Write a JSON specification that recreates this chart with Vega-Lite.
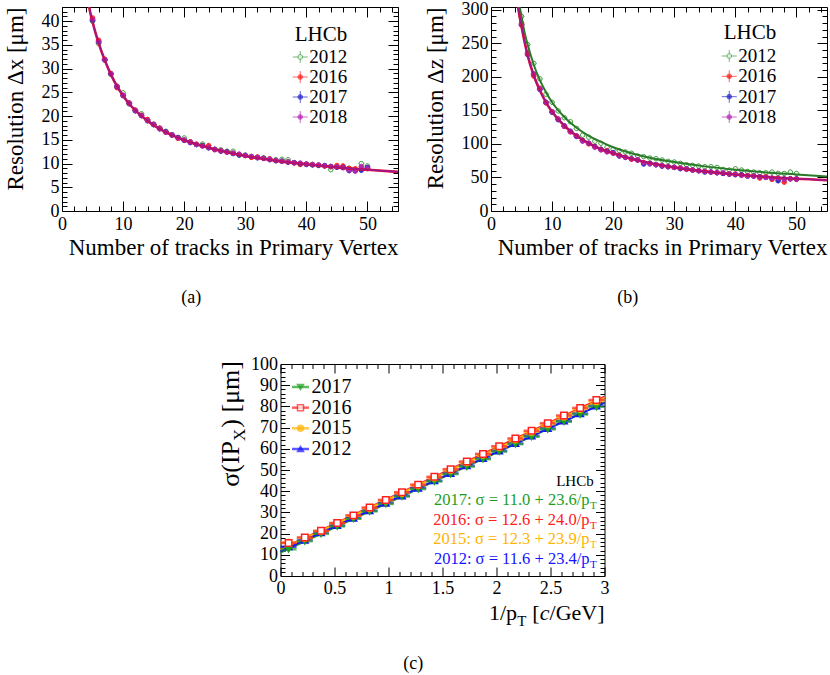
{
  "$schema": "https://vega.github.io/schema/vega-lite/v6.json",
  "background": "white",
  "padding": {"left": 3, "top": -5, "right": 0, "bottom": 0},
  "config": {
    "font": "Liberation Serif",
    "view": {"stroke": "#000000", "strokeWidth": 1},
    "legend": {"disable": true},
    "axis": {
      "domain": false, "grid": false, "labelFont": "Liberation Serif", "labelFontSize": 18,
      "labelColor": "#000000", "titleFont": "Liberation Serif", "titleFontSize": 23,
      "titleFontWeight": "normal", "titleColor": "#000000", "tickColor": "#000000",
      "tickWidth": 1, "labelFlush": false, "labelOverlap": false
    }
  },
  "datasets": {
    "resx": [
      {"n":5,"2012":40.0,"2016":40.7,"2017":40.2,"2018":40.4},
      {"n":6,"2012":35.3,"2016":36.0,"2017":35.6,"2018":35.7},
      {"n":7,"2012":31.9,"2016":32.0,"2017":31.8,"2018":31.9},
      {"n":8,"2012":28.8,"2016":29.0,"2017":28.9,"2018":28.9},
      {"n":9,"2012":26.3,"2016":26.0,"2017":26.2,"2018":26.3},
      {"n":10,"2012":24.9,"2016":24.4,"2017":24.3,"2018":24.4},
      {"n":11,"2012":22.6,"2016":22.8,"2017":22.7,"2018":22.6},
      {"n":12,"2012":21.2,"2016":21.3,"2017":21.1,"2018":21.2},
      {"n":13,"2012":20.5,"2016":20.2,"2017":20.1,"2018":20.1},
      {"n":14,"2012":19.2,"2016":19.3,"2017":19.0,"2018":19.1},
      {"n":15,"2012":18.3,"2016":18.2,"2017":18.2,"2018":18.3},
      {"n":16,"2012":17.4,"2016":17.5,"2017":17.3,"2018":17.4},
      {"n":17,"2012":16.8,"2016":16.6,"2017":16.7,"2018":16.6},
      {"n":18,"2012":16.1,"2016":16.0,"2017":16.0,"2018":16.1},
      {"n":19,"2012":15.5,"2016":15.3,"2017":15.5,"2018":15.4},
      {"n":20,"2012":15.4,"2016":14.9,"2017":14.9,"2018":15.0},
      {"n":21,"2012":14.6,"2016":14.6,"2017":14.4,"2018":14.5},
      {"n":22,"2012":14.0,"2016":14.1,"2017":14.0,"2018":14.0},
      {"n":23,"2012":14.1,"2016":13.7,"2017":13.8,"2018":13.7},
      {"n":24,"2012":13.4,"2016":13.8,"2017":13.3,"2018":13.4},
      {"n":25,"2012":13.0,"2016":12.9,"2017":13.0,"2018":13.0},
      {"n":26,"2012":12.9,"2016":12.7,"2017":12.6,"2018":12.7},
      {"n":27,"2012":12.6,"2016":12.4,"2017":12.5,"2018":12.4},
      {"n":28,"2012":12.6,"2016":12.2,"2017":12.1,"2018":12.2},
      {"n":29,"2012":11.8,"2016":11.9,"2017":11.8,"2018":12.0},
      {"n":30,"2012":11.8,"2016":11.7,"2017":11.7,"2018":11.7},
      {"n":31,"2012":11.4,"2016":11.3,"2017":11.5,"2018":11.5},
      {"n":32,"2012":11.3,"2016":11.4,"2017":11.2,"2018":11.3},
      {"n":33,"2012":11.2,"2016":11.1,"2017":11.1,"2018":11.1},
      {"n":34,"2012":10.9,"2016":11.0,"2017":10.8,"2018":10.9},
      {"n":35,"2012":10.8,"2016":10.6,"2017":10.6,"2018":10.7},
      {"n":36,"2012":10.9,"2016":10.5,"2017":10.5,"2018":10.5},
      {"n":37,"2012":10.8,"2016":10.3,"2017":10.3,"2018":10.4},
      {"n":38,"2012":10.2,"2016":10.1,"2017":10.2,"2018":10.2},
      {"n":39,"2012":9.9,"2016":9.8,"2017":10.0,"2018":10.1},
      {"n":40,"2012":9.9,"2016":9.9,"2017":9.8,"2018":9.9},
      {"n":41,"2012":9.8,"2016":9.8,"2017":9.7,"2018":9.8},
      {"n":42,"2012":9.6,"2016":9.7,"2017":9.6,"2018":9.7},
      {"n":43,"2012":9.5,"2016":9.5,"2017":9.6,"2018":9.5},
      {"n":44,"2012":8.7,"2016":9.3,"2017":9.4,"2018":9.4},
      {"n":45,"2012":9.3,"2016":9.6,"2017":9.2,"2018":9.3},
      {"n":46,"2012":9.2,"2016":9.5,"2017":9.2,"2018":9.1},
      {"n":47,"2012":9.0,"2016":9.0,"2017":8.5,"2018":8.6},
      {"n":48,"2012":8.7,"2016":8.9,"2017":8.5,"2018":8.4},
      {"n":49,"2012":10.0,"2016":8.9,"2017":8.6,"2018":9.4},
      {"n":50,"2012":9.5,"2016":8.9,"2017":9.2,"2018":9.0}
    ],
    "resz": [
      {"n":5,"2012":290,"2016":280,"2017":277,"2018":278},
      {"n":6,"2012":248,"2016":236,"2017":233,"2018":234},
      {"n":7,"2012":220,"2016":201,"2017":204,"2018":204},
      {"n":8,"2012":197,"2016":183,"2017":181,"2018":182},
      {"n":9,"2012":174,"2016":161,"2017":162,"2018":162},
      {"n":10,"2012":162,"2016":148,"2017":147,"2018":148},
      {"n":11,"2012":149,"2016":137,"2017":136,"2018":137},
      {"n":12,"2012":139,"2016":126,"2017":127,"2018":126},
      {"n":13,"2012":133,"2016":118,"2017":119,"2018":118},
      {"n":14,"2012":123,"2016":112,"2017":111,"2018":112},
      {"n":15,"2012":113,"2016":105,"2017":105,"2018":104},
      {"n":16,"2012":110,"2016":100,"2017":101,"2018":101},
      {"n":17,"2012":104,"2016":96,"2017":96,"2018":95},
      {"n":18,"2012":101,"2016":92,"2017":92,"2018":91},
      {"n":19,"2012":95,"2016":90,"2017":89,"2018":88},
      {"n":20,"2012":92,"2016":86,"2017":87,"2018":86},
      {"n":21,"2012":90,"2016":83,"2017":82,"2018":82},
      {"n":22,"2012":88,"2016":80,"2017":80,"2018":80},
      {"n":23,"2012":86,"2016":77,"2017":78,"2018":78},
      {"n":24,"2012":82,"2016":76,"2017":76,"2018":76},
      {"n":25,"2012":81,"2016":72,"2017":70,"2018":72},
      {"n":26,"2012":79,"2016":71,"2017":71,"2018":70},
      {"n":27,"2012":78,"2016":69,"2017":69,"2018":69},
      {"n":28,"2012":76,"2016":67,"2017":67,"2018":68},
      {"n":29,"2012":74,"2016":66,"2017":66,"2018":66},
      {"n":30,"2012":73,"2016":65,"2017":65,"2018":65},
      {"n":31,"2012":71,"2016":64,"2017":63,"2018":64},
      {"n":32,"2012":69,"2016":62,"2017":63,"2018":63},
      {"n":33,"2012":68,"2016":61,"2017":61,"2018":61},
      {"n":34,"2012":67,"2016":60,"2017":60,"2018":60},
      {"n":35,"2012":66,"2016":59,"2017":58,"2018":59},
      {"n":36,"2012":66,"2016":58,"2017":58,"2018":58},
      {"n":37,"2012":65,"2016":57,"2017":57,"2018":57},
      {"n":38,"2012":62,"2016":56,"2017":56,"2018":57},
      {"n":39,"2012":61,"2016":55,"2017":55,"2018":55},
      {"n":40,"2012":63,"2016":55,"2017":54,"2018":55},
      {"n":41,"2012":61,"2016":54,"2017":54,"2018":53},
      {"n":42,"2012":59,"2016":53,"2017":52,"2018":52},
      {"n":43,"2012":58,"2016":52,"2017":52,"2018":52},
      {"n":44,"2012":57,"2016":49,"2017":51,"2018":51},
      {"n":45,"2012":57,"2016":51,"2017":50,"2018":50},
      {"n":46,"2012":58,"2016":47,"2017":49,"2018":49},
      {"n":47,"2012":56,"2016":48,"2017":45,"2018":49},
      {"n":48,"2012":56,"2016":43,"2017":48,"2018":47},
      {"n":49,"2012":58,"2016":48,"2017":48,"2018":48},
      {"n":50,"2012":56,"2016":47,"2017":48,"2018":48}
    ],
    "fitx": [
      {"n":4.3,"res":44.2},{"n":4.6,"res":42.0},{"n":5,"res":39.9},{"n":5.5,"res":37.5},
      {"n":6,"res":35.4},{"n":7,"res":31.8},{"n":8,"res":28.8},{"n":9,"res":26.3},
      {"n":10,"res":24.3},{"n":11,"res":22.6},{"n":12,"res":21.2},{"n":14,"res":19.0},
      {"n":16,"res":17.3},{"n":18,"res":16.0},{"n":20,"res":14.9},{"n":23,"res":13.7},
      {"n":26,"res":12.7},{"n":30,"res":11.6},{"n":35,"res":10.6},{"n":40,"res":9.85},
      {"n":45,"res":9.2},{"n":50,"res":8.7},{"n":55,"res":8.25}
    ],
    "fitz": [
      {"n":4.2,"z12":335,"z2":320},{"n":4.5,"z12":315,"z2":300},{"n":5,"z12":290,"z2":275},
      {"n":5.5,"z12":266,"z2":252},{"n":6,"z12":248,"z2":232},{"n":7,"z12":218,"z2":202},
      {"n":8,"z12":195,"z2":180},{"n":9,"z12":177,"z2":162},{"n":10,"z12":162,"z2":148},
      {"n":12,"z12":140,"z2":127},{"n":14,"z12":124,"z2":112},{"n":16,"z12":112,"z2":101},
      {"n":18,"z12":103,"z2":92},{"n":20,"z12":95,"z2":86},{"n":23,"z12":86,"z2":78},
      {"n":26,"z12":79.5,"z2":71.5},{"n":30,"z12":73,"z2":65},{"n":35,"z12":66.5,"z2":59},
      {"n":40,"z12":61.5,"z2":54.5},{"n":45,"z12":57.5,"z2":51},{"n":50,"z12":54.5,"z2":48},
      {"n":55,"z12":51.5,"z2":46}
    ],
    "ipx": [
      {"x":0.075,"2017":12.6,"2016":15.6,"2015":15.8,"2012":13.8},
      {"x":0.225,"2017":16.4,"2016":18.2,"2015":17.9,"2012":16.9},
      {"x":0.375,"2017":19.9,"2016":21.3,"2015":21.2,"2012":20.4},
      {"x":0.525,"2017":23.4,"2016":25.0,"2015":24.9,"2012":23.8},
      {"x":0.675,"2017":27.0,"2016":28.6,"2015":28.4,"2012":27.3},
      {"x":0.825,"2017":30.5,"2016":32.3,"2015":32.0,"2012":30.8},
      {"x":0.975,"2017":34.0,"2016":35.9,"2015":35.6,"2012":34.4},
      {"x":1.125,"2017":37.5,"2016":39.5,"2015":39.2,"2012":37.8},
      {"x":1.275,"2017":41.0,"2016":43.1,"2015":42.8,"2012":41.4},
      {"x":1.425,"2017":44.6,"2016":46.8,"2015":46.4,"2012":44.9},
      {"x":1.575,"2017":48.1,"2016":50.4,"2015":50.0,"2012":48.4},
      {"x":1.725,"2017":51.6,"2016":54.0,"2015":53.6,"2012":52.0},
      {"x":1.875,"2017":55.1,"2016":57.6,"2015":57.2,"2012":55.5},
      {"x":2.025,"2017":58.7,"2016":61.2,"2015":60.8,"2012":59.0},
      {"x":2.175,"2017":62.2,"2016":64.9,"2015":64.4,"2012":62.5},
      {"x":2.325,"2017":65.7,"2016":68.5,"2015":68.0,"2012":66.1},
      {"x":2.475,"2017":69.2,"2016":72.1,"2015":71.6,"2012":69.6},
      {"x":2.625,"2017":72.8,"2016":75.7,"2015":75.2,"2012":73.1},
      {"x":2.775,"2017":76.2,"2016":79.3,"2015":78.8,"2012":76.6},
      {"x":2.925,"2017":79.8,"2016":83.0,"2015":82.4,"2012":80.2}
    ],
    "fitc": [
      {"year":"2017","x":0,"s":11.0},{"year":"2017","x":3,"s":81.8},
      {"year":"2016","x":0,"s":12.6},{"year":"2016","x":3,"s":84.6},
      {"year":"2015","x":0,"s":12.3},{"year":"2015","x":3,"s":84.0},
      {"year":"2012","x":0,"s":11.6},{"year":"2012","x":3,"s":81.8}
    ],
    "yearsRun": [{"year":"2012"},{"year":"2016"},{"year":"2017"},{"year":"2018"}],
    "yearsIP": [{"year":"2017"},{"year":"2016"},{"year":"2015"},{"year":"2012"}],
    "fitsIP": [
      {"year":"2017","eq":"2017: σ = 11.0 + 23.6/p"},
      {"year":"2016","eq":"2016: σ = 12.6 + 24.0/p"},
      {"year":"2015","eq":"2015: σ = 12.3 + 23.9/p"},
      {"year":"2012","eq":"2012: σ = 11.6 + 23.4/p"}
    ]
  },
  "spacing": 46,
  "center": true,
  "resolve": {"scale": {"color": "independent", "fill": "independent", "stroke": "independent", "shape": "independent"}},
  "vconcat": [
    {
      "spacing": 24,
      "hconcat": [
        {
          "width": 336, "height": 204,
          "title": {"text": "(a)", "orient": "bottom", "frame": "bounds", "anchor": "middle", "offset": 30, "dx": -10, "fontSize": 18, "fontWeight": "normal", "font": "Liberation Serif"},
          "layer": [
            {
              "layer": [
                {
                  "data": {"name": "fitx"},
                  "mark": {"type": "line", "opacity": 0},
                  "encoding": {
                    "x": {"field": "n", "type": "quantitative", "scale": {"domain": [0, 55], "nice": false, "zero": false},
                      "axis": {"values": [0,2,4,6,8,10,12,14,16,18,20,22,24,26,28,30,32,34,36,38,40,42,44,46,48,50,52,54],
                        "labelExpr": "datum.value % 10 === 0 ? datum.label : ''",
                        "tickSize": {"condition": {"test": "datum.value % 10 === 0", "value": -10}, "value": -5},
                        "labelPadding": 14, "title": "Number of tracks in Primary Vertex", "titleAnchor": "end", "titlePadding": -2}},
                    "y": {"field": "res", "type": "quantitative", "scale": {"domain": [0, 43], "nice": false},
                      "axis": {"values": [0,1,2,3,4,5,6,7,8,9,10,11,12,13,14,15,16,17,18,19,20,21,22,23,24,25,26,27,28,29,30,31,32,33,34,35,36,37,38,39,40,41,42,43],
                        "labelExpr": "datum.value % 5 === 0 ? datum.label : ''",
                        "tickSize": {"condition": {"test": "datum.value % 5 === 0", "value": -10}, "value": -5},
                        "labelPadding": 13, "title": "Resolution Δx [μm]", "titleAnchor": "end", "titlePadding": 14}}
                  }
                },
                {
                  "data": {"name": "fitx"},
                  "mark": {"type": "line", "opacity": 0},
                  "encoding": {
                    "x": {"field": "n", "type": "quantitative",
                      "axis": {"orient": "top", "labels": false, "title": null,
                        "values": [0,2,4,6,8,10,12,14,16,18,20,22,24,26,28,30,32,34,36,38,40,42,44,46,48,50,52,54],
                        "tickSize": {"condition": {"test": "datum.value % 10 === 0", "value": -10}, "value": -5}}},
                    "y": {"field": "res", "type": "quantitative",
                      "axis": {"orient": "right", "labels": false, "title": null,
                        "values": [0,1,2,3,4,5,6,7,8,9,10,11,12,13,14,15,16,17,18,19,20,21,22,23,24,25,26,27,28,29,30,31,32,33,34,35,36,37,38,39,40,41,42,43],
                        "tickSize": {"condition": {"test": "datum.value % 5 === 0", "value": -10}, "value": -5}}}
                  }
                },
                {
                  "data": {"name": "resx"},
                  "transform": [{"fold": ["2012", "2016", "2017", "2018"], "as": ["year", "res"]}],
                  "encoding": {
                    "x": {"field": "n", "type": "quantitative", "axis": null},
                    "y": {"field": "res", "type": "quantitative", "axis": null}
                  },
                  "layer": [
                    {"mark": {"type": "tick", "orient": "horizontal", "size": 6, "thickness": 1, "opacity": 0.6},
                     "encoding": {"color": {"field": "year", "type": "nominal", "scale": {"domain": ["2012","2016","2017","2018"], "range": ["#3a9a3a","#ff2020","#2424c4","#b428b4"]}}}},
                    {"mark": {"type": "tick", "orient": "vertical", "size": 5, "thickness": 1, "opacity": 0.6},
                     "encoding": {"color": {"field": "year", "type": "nominal", "scale": {"domain": ["2012","2016","2017","2018"], "range": ["#3a9a3a","#ff2020","#2424c4","#b428b4"]}}}},
                    {"mark": {"type": "point", "shape": "circle", "size": 20, "strokeWidth": 1, "filled": true, "opacity": 0.9},
                     "encoding": {
                       "stroke": {"field": "year", "type": "nominal", "scale": {"domain": ["2012","2016","2017","2018"], "range": ["#3a9a3a","#ff2020","#2424c4","#b428b4"]}},
                       "fill": {"field": "year", "type": "nominal", "scale": {"domain": ["2012","2016","2017","2018"], "range": ["#ffffff","#ff2020","#2424c4","#b428b4"]}}}}
                  ]
                },
                {
                  "data": {"name": "fitx"},
                  "mark": {"type": "line", "color": "#e01030", "strokeWidth": 2.6, "clip": true, "interpolate": "monotone"},
                  "encoding": {
                    "x": {"field": "n", "type": "quantitative", "axis": null},
                    "y": {"field": "res", "type": "quantitative", "axis": null}
                  }
                },
                {
                  "data": {"name": "fitx"},
                  "mark": {"type": "line", "color": "#a0148c", "strokeWidth": 1.6, "clip": true, "interpolate": "monotone"},
                  "encoding": {
                    "x": {"field": "n", "type": "quantitative", "axis": null},
                    "y": {"field": "res", "type": "quantitative", "axis": null}
                  }
                },
                {
                  "data": {"values": [{}]},
                  "mark": {"type": "text", "text": "LHCb", "align": "left", "baseline": "middle", "fontSize": 21, "color": "#000000"},
                  "encoding": {
                    "x": {"datum": 38.1, "type": "quantitative", "axis": null},
                    "y": {"datum": 37, "type": "quantitative", "axis": null}
                  }
                }
              ],
              "resolve": {"axis": {"x": "independent", "y": "independent"}}
            },
            {
              "data": {"name": "yearsRun"},
              "encoding": {
                "x": {"datum": 39.0, "type": "quantitative", "axis": null},
                "y": {"field": "year", "type": "nominal", "scale": {"type": "point", "domain": ["2012","2016","2017","2018"], "range": [50, 110], "padding": 0}, "axis": null}
              },
              "layer": [
                {"mark": {"type": "tick", "orient": "horizontal", "size": 15, "thickness": 1},
                 "encoding": {"color": {"field": "year", "type": "nominal", "scale": {"domain": ["2012","2016","2017","2018"], "range": ["#3a9a3a","#ff2020","#2424c4","#b428b4"]}}}},
                {"mark": {"type": "tick", "orient": "vertical", "size": 12, "thickness": 1},
                 "encoding": {"color": {"field": "year", "type": "nominal", "scale": {"domain": ["2012","2016","2017","2018"], "range": ["#3a9a3a","#ff2020","#2424c4","#b428b4"]}}}},
                {"mark": {"type": "point", "shape": "circle", "size": 22, "strokeWidth": 1, "filled": true},
                 "encoding": {
                   "stroke": {"field": "year", "type": "nominal", "scale": {"domain": ["2012","2016","2017","2018"], "range": ["#3a9a3a","#ff2020","#2424c4","#b428b4"]}},
                   "fill": {"field": "year", "type": "nominal", "scale": {"domain": ["2012","2016","2017","2018"], "range": ["#ffffff","#ff2020","#2424c4","#b428b4"]}}}},
                {"mark": {"type": "text", "align": "left", "baseline": "middle", "dx": 9, "fontSize": 19, "color": "#000000"},
                 "encoding": {"text": {"field": "year"}}}
              ]
            }
          ],
          "resolve": {"scale": {"y": "independent"}, "axis": {"x": "independent", "y": "independent"}}
        },
        {
          "width": 336, "height": 204,
          "title": {"text": "(b)", "orient": "bottom", "frame": "bounds", "anchor": "middle", "offset": 30, "dx": 2, "fontSize": 18, "fontWeight": "normal", "font": "Liberation Serif"},
          "layer": [
            {
              "layer": [
                {
                  "data": {"name": "fitz"},
                  "mark": {"type": "line", "opacity": 0},
                  "encoding": {
                    "x": {"field": "n", "type": "quantitative", "scale": {"domain": [0, 55], "nice": false, "zero": false},
                      "axis": {"values": [0,2,4,6,8,10,12,14,16,18,20,22,24,26,28,30,32,34,36,38,40,42,44,46,48,50,52,54],
                        "labelExpr": "datum.value % 10 === 0 ? datum.label : ''",
                        "tickSize": {"condition": {"test": "datum.value % 10 === 0", "value": -10}, "value": -5},
                        "labelPadding": 14, "title": "Number of tracks in Primary Vertex", "titleAnchor": "end", "titlePadding": -2}},
                    "y": {"field": "z2", "type": "quantitative", "scale": {"domain": [0, 304], "nice": false},
                      "axis": {"values": [0,10,20,30,40,50,60,70,80,90,100,110,120,130,140,150,160,170,180,190,200,210,220,230,240,250,260,270,280,290,300],
                        "labelExpr": "datum.value % 50 === 0 ? datum.label : ''",
                        "tickSize": {"condition": {"test": "datum.value % 50 === 0", "value": -10}, "value": -5},
                        "labelPadding": 13, "title": "Resolution Δz [μm]", "titleAnchor": "end", "titlePadding": 14}}
                  }
                },
                {
                  "data": {"name": "fitz"},
                  "mark": {"type": "line", "opacity": 0},
                  "encoding": {
                    "x": {"field": "n", "type": "quantitative",
                      "axis": {"orient": "top", "labels": false, "title": null,
                        "values": [0,2,4,6,8,10,12,14,16,18,20,22,24,26,28,30,32,34,36,38,40,42,44,46,48,50,52,54],
                        "tickSize": {"condition": {"test": "datum.value % 10 === 0", "value": -10}, "value": -5}}},
                    "y": {"field": "z2", "type": "quantitative",
                      "axis": {"orient": "right", "labels": false, "title": null,
                        "values": [0,10,20,30,40,50,60,70,80,90,100,110,120,130,140,150,160,170,180,190,200,210,220,230,240,250,260,270,280,290,300],
                        "tickSize": {"condition": {"test": "datum.value % 50 === 0", "value": -10}, "value": -5}}}
                  }
                },
                {
                  "data": {"name": "resz"},
                  "transform": [{"fold": ["2012", "2016", "2017", "2018"], "as": ["year", "res"]}],
                  "encoding": {
                    "x": {"field": "n", "type": "quantitative", "axis": null},
                    "y": {"field": "res", "type": "quantitative", "axis": null}
                  },
                  "layer": [
                    {"mark": {"type": "tick", "orient": "horizontal", "size": 6, "thickness": 1, "opacity": 0.6},
                     "encoding": {"color": {"field": "year", "type": "nominal", "scale": {"domain": ["2012","2016","2017","2018"], "range": ["#3a9a3a","#ff2020","#2424c4","#b428b4"]}}}},
                    {"mark": {"type": "tick", "orient": "vertical", "size": 5, "thickness": 1, "opacity": 0.6},
                     "encoding": {"color": {"field": "year", "type": "nominal", "scale": {"domain": ["2012","2016","2017","2018"], "range": ["#3a9a3a","#ff2020","#2424c4","#b428b4"]}}}},
                    {"mark": {"type": "point", "shape": "circle", "size": 20, "strokeWidth": 1, "filled": true, "opacity": 0.9},
                     "encoding": {
                       "stroke": {"field": "year", "type": "nominal", "scale": {"domain": ["2012","2016","2017","2018"], "range": ["#3a9a3a","#ff2020","#2424c4","#b428b4"]}},
                       "fill": {"field": "year", "type": "nominal", "scale": {"domain": ["2012","2016","2017","2018"], "range": ["#ffffff","#ff2020","#2424c4","#b428b4"]}}}}
                  ]
                },
                {
                  "data": {"name": "fitz"},
                  "mark": {"type": "line", "color": "#2a7a2a", "strokeWidth": 2, "clip": true, "interpolate": "monotone"},
                  "encoding": {
                    "x": {"field": "n", "type": "quantitative", "axis": null},
                    "y": {"field": "z12", "type": "quantitative", "axis": null}
                  }
                },
                {
                  "data": {"name": "fitz"},
                  "mark": {"type": "line", "color": "#e01030", "strokeWidth": 2.6, "clip": true, "interpolate": "monotone"},
                  "encoding": {
                    "x": {"field": "n", "type": "quantitative", "axis": null},
                    "y": {"field": "z2", "type": "quantitative", "axis": null}
                  }
                },
                {
                  "data": {"name": "fitz"},
                  "mark": {"type": "line", "color": "#a0148c", "strokeWidth": 1.6, "clip": true, "interpolate": "monotone"},
                  "encoding": {
                    "x": {"field": "n", "type": "quantitative", "axis": null},
                    "y": {"field": "z2", "type": "quantitative", "axis": null}
                  }
                },
                {
                  "data": {"values": [{}]},
                  "mark": {"type": "text", "text": "LHCb", "align": "left", "baseline": "middle", "fontSize": 21, "color": "#000000"},
                  "encoding": {
                    "x": {"datum": 38.1, "type": "quantitative", "axis": null},
                    "y": {"datum": 265, "type": "quantitative", "axis": null}
                  }
                }
              ],
              "resolve": {"axis": {"x": "independent", "y": "independent"}}
            },
            {
              "data": {"name": "yearsRun"},
              "encoding": {
                "x": {"datum": 39.0, "type": "quantitative", "axis": null},
                "y": {"field": "year", "type": "nominal", "scale": {"type": "point", "domain": ["2012","2016","2017","2018"], "range": [49, 110], "padding": 0}, "axis": null}
              },
              "layer": [
                {"mark": {"type": "tick", "orient": "horizontal", "size": 15, "thickness": 1},
                 "encoding": {"color": {"field": "year", "type": "nominal", "scale": {"domain": ["2012","2016","2017","2018"], "range": ["#3a9a3a","#ff2020","#2424c4","#b428b4"]}}}},
                {"mark": {"type": "tick", "orient": "vertical", "size": 12, "thickness": 1},
                 "encoding": {"color": {"field": "year", "type": "nominal", "scale": {"domain": ["2012","2016","2017","2018"], "range": ["#3a9a3a","#ff2020","#2424c4","#b428b4"]}}}},
                {"mark": {"type": "point", "shape": "circle", "size": 22, "strokeWidth": 1, "filled": true},
                 "encoding": {
                   "stroke": {"field": "year", "type": "nominal", "scale": {"domain": ["2012","2016","2017","2018"], "range": ["#3a9a3a","#ff2020","#2424c4","#b428b4"]}},
                   "fill": {"field": "year", "type": "nominal", "scale": {"domain": ["2012","2016","2017","2018"], "range": ["#ffffff","#ff2020","#2424c4","#b428b4"]}}}},
                {"mark": {"type": "text", "align": "left", "baseline": "middle", "dx": 9, "fontSize": 19, "color": "#000000"},
                 "encoding": {"text": {"field": "year"}}}
              ]
            }
          ],
          "resolve": {"scale": {"y": "independent"}, "axis": {"x": "independent", "y": "independent"}}
        }
      ]
    },
    {
      "width": 324, "height": 212,
      "title": {"text": "(c)", "orient": "bottom", "frame": "bounds", "anchor": "middle", "offset": 26, "dx": 0, "fontSize": 18, "fontWeight": "normal", "font": "Liberation Serif"},
      "layer": [
        {
          "layer": [
            {
              "data": {"name": "fitc"},
              "mark": {"type": "line", "strokeWidth": 2},
              "encoding": {
                "x": {"field": "x", "type": "quantitative", "scale": {"domain": [0, 3], "nice": false, "zero": false},
                  "axis": {"values": [0,0.1,0.2,0.3,0.4,0.5,0.6,0.7,0.8,0.9,1,1.1,1.2,1.3,1.4,1.5,1.6,1.7,1.8,1.9,2,2.1,2.2,2.3,2.4,2.5,2.6,2.7,2.8,2.9,3],
                    "format": "~g",
                    "labelExpr": "abs(datum.value*2 - round(datum.value*2)) < 0.001 ? datum.label : ''",
                    "tickSize": {"condition": {"test": "abs(datum.value*2 - round(datum.value*2)) < 0.001", "value": -9}, "value": -4.5},
                    "labelPadding": 12, "title": null}},
                "y": {"field": "s", "type": "quantitative", "scale": {"domain": [0, 100], "nice": false},
                  "axis": {"values": [0,2,4,6,8,10,12,14,16,18,20,22,24,26,28,30,32,34,36,38,40,42,44,46,48,50,52,54,56,58,60,62,64,66,68,70,72,74,76,78,80,82,84,86,88,90,92,94,96,98,100],
                    "labelExpr": "datum.value % 10 === 0 ? datum.label : ''",
                    "tickSize": {"condition": {"test": "datum.value % 10 === 0", "value": -9}, "value": -4.5},
                    "labelPadding": 12, "title": null}},
                "color": {"field": "year", "type": "nominal", "scale": {"domain": ["2017","2016","2015","2012"], "range": ["#1e9e1e","#ff2020","#ffb400","#1414ff"]}}
              }
            },
            {
              "data": {"name": "fitc"},
              "mark": {"type": "line", "opacity": 0},
              "encoding": {
                "x": {"field": "x", "type": "quantitative",
                  "axis": {"orient": "top", "labels": false, "title": null,
                    "values": [0,0.1,0.2,0.3,0.4,0.5,0.6,0.7,0.8,0.9,1,1.1,1.2,1.3,1.4,1.5,1.6,1.7,1.8,1.9,2,2.1,2.2,2.3,2.4,2.5,2.6,2.7,2.8,2.9,3],
                    "tickSize": {"condition": {"test": "abs(datum.value*2 - round(datum.value*2)) < 0.001", "value": -9}, "value": -4.5}}},
                "y": {"field": "s", "type": "quantitative",
                  "axis": {"orient": "right", "labels": false, "title": null,
                    "values": [0,2,4,6,8,10,12,14,16,18,20,22,24,26,28,30,32,34,36,38,40,42,44,46,48,50,52,54,56,58,60,62,64,66,68,70,72,74,76,78,80,82,84,86,88,90,92,94,96,98,100],
                    "tickSize": {"condition": {"test": "datum.value % 10 === 0", "value": -9}, "value": -4.5}}},
                "detail": {"field": "year"}
              }
            },
            {
              "data": {"name": "ipx"},
              "transform": [{"fold": ["2012", "2017", "2015", "2016"], "as": ["year", "s"]}],
              "encoding": {
                "x": {"field": "x", "type": "quantitative", "axis": null},
                "y": {"field": "s", "type": "quantitative", "axis": null}
              },
              "layer": [
                {"mark": {"type": "tick", "orient": "horizontal", "size": 16, "thickness": 2.5},
                 "encoding": {"color": {"field": "year", "type": "nominal", "scale": {"domain": ["2017","2016","2015","2012"], "range": ["#1e9e1e","#ff2020","#ffb400","#1414ff"]}}}},
                {"mark": {"type": "point", "size": 42, "strokeWidth": 1.5, "filled": true, "opacity": 1},
                 "encoding": {
                   "shape": {"field": "year", "type": "nominal", "scale": {"domain": ["2017","2016","2015","2012"], "range": ["triangle-down","square","circle","triangle-up"]}},
                   "fill": {"field": "year", "type": "nominal", "scale": {"domain": ["2017","2016","2015","2012"], "range": ["#1e9e1e","#ffffff","#ffb400","#1414ff"]}},
                   "stroke": {"field": "year", "type": "nominal", "scale": {"domain": ["2017","2016","2015","2012"], "range": ["#1e9e1e","#ff2020","#ffb400","#1414ff"]}}}}
              ]
            },
            {
              "data": {"values": [{}]},
              "encoding": {
                "x": {"datum": 3, "type": "quantitative", "axis": null},
                "y": {"datum": 0, "type": "quantitative", "axis": null}
              },
              "layer": [
                {"mark": {"type": "text", "text": "/GeV]", "align": "right", "baseline": "alphabetic", "dy": 44, "fontSize": 22, "color": "#000000"}},
                {"mark": {"type": "text", "text": "c", "align": "right", "baseline": "alphabetic", "dx": -55, "dy": 44, "fontSize": 22, "fontStyle": "italic", "color": "#000000"}},
                {"mark": {"type": "text", "text": " [", "align": "right", "baseline": "alphabetic", "dx": -64.8, "dy": 44, "fontSize": 22, "color": "#000000"}},
                {"mark": {"type": "text", "text": "T", "align": "right", "baseline": "alphabetic", "dx": -78, "dy": 50, "fontSize": 15, "color": "#000000"}},
                {"mark": {"type": "text", "text": "1/p", "align": "right", "baseline": "alphabetic", "dx": -87.5, "dy": 44, "fontSize": 22, "color": "#000000"}}
              ]
            },
            {
              "data": {"values": [{}]},
              "encoding": {
                "x": {"datum": 0, "type": "quantitative", "axis": null},
                "y": {"datum": 100, "type": "quantitative", "axis": null}
              },
              "layer": [
                {"mark": {"type": "text", "text": ") [μm]", "angle": 270, "align": "right", "baseline": "alphabetic", "dx": 3, "dy": -42, "fontSize": 26, "color": "#000000"}},
                {"mark": {"type": "text", "text": "X", "angle": 270, "align": "right", "baseline": "alphabetic", "dx": -64.7, "dy": -36, "fontSize": 17, "color": "#000000"}},
                {"mark": {"type": "text", "text": "σ(IP", "angle": 270, "align": "right", "baseline": "alphabetic", "dx": -77, "dy": -42, "fontSize": 26, "color": "#000000"}}
              ]
            },
            {
              "data": {"values": [{}]},
              "mark": {"type": "text", "text": "LHCb", "align": "right", "baseline": "middle", "fontSize": 15, "color": "#000000"},
              "encoding": {
                "x": {"datum": 2.9, "type": "quantitative", "axis": null},
                "y": {"datum": 44.8, "type": "quantitative", "axis": null}
              }
            }
          ],
          "resolve": {"axis": {"x": "independent", "y": "independent"}}
        },
        {
          "data": {"name": "yearsIP"},
          "encoding": {
            "x": {"datum": 0.185, "type": "quantitative", "axis": null},
            "y": {"field": "year", "type": "nominal", "scale": {"type": "point", "domain": ["2017","2016","2015","2012"], "range": [23, 85], "padding": 0}, "axis": null}
          },
          "layer": [
            {"mark": {"type": "tick", "orient": "horizontal", "size": 17, "thickness": 2.5},
             "encoding": {"color": {"field": "year", "type": "nominal", "scale": {"domain": ["2017","2016","2015","2012"], "range": ["#1e9e1e","#ff2020","#ffb400","#1414ff"]}}}},
            {"mark": {"type": "point", "size": 36, "strokeWidth": 1.5, "filled": true},
             "encoding": {
               "shape": {"field": "year", "type": "nominal", "scale": {"domain": ["2017","2016","2015","2012"], "range": ["triangle-down","square","circle","triangle-up"]}},
               "fill": {"field": "year", "type": "nominal", "scale": {"domain": ["2017","2016","2015","2012"], "range": ["#1e9e1e","#ffffff","#ffb400","#1414ff"]}},
               "stroke": {"field": "year", "type": "nominal", "scale": {"domain": ["2017","2016","2015","2012"], "range": ["#1e9e1e","#ff2020","#ffb400","#1414ff"]}}}},
            {"mark": {"type": "text", "align": "left", "baseline": "middle", "dx": 11, "fontSize": 20, "color": "#000000"},
             "encoding": {"text": {"field": "year"}}}
          ]
        },
        {
          "data": {"name": "fitsIP"},
          "encoding": {
            "y": {"field": "year", "type": "nominal", "scale": {"type": "point", "domain": ["2017","2016","2015","2012"], "range": [136, 195], "padding": 0}, "axis": null},
            "color": {"field": "year", "type": "nominal", "scale": {"domain": ["2017","2016","2015","2012"], "range": ["#1e9e1e","#ff2020","#ffb400","#1414ff"]}}
          },
          "layer": [
            {"mark": {"type": "text", "align": "right", "baseline": "middle", "fontSize": 16.5},
             "encoding": {"x": {"datum": 2.862, "type": "quantitative", "axis": null}, "text": {"field": "eq"}}},
            {"mark": {"type": "text", "text": "T", "align": "left", "baseline": "middle", "dy": 6, "fontSize": 11},
             "encoding": {"x": {"datum": 2.866, "type": "quantitative", "axis": null}}}
          ]
        }
      ],
      "resolve": {"scale": {"y": "independent"}, "axis": {"x": "independent", "y": "independent"}}
    }
  ]
}
